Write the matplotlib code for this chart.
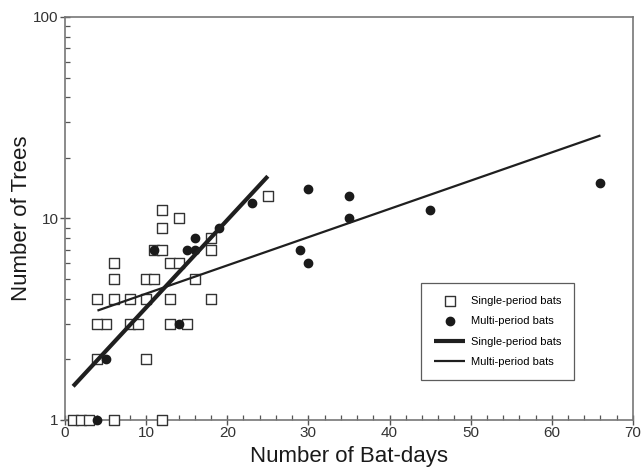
import numpy as np
import matplotlib
matplotlib.use('Agg')
import matplotlib.pyplot as plt
from matplotlib.ticker import FixedLocator, NullFormatter

plt.rcParams['font.family'] = ['Liberation Sans', 'DejaVu Sans']

# single-period bats (open squares)
single_x = [1, 2, 3, 6, 12, 4, 10, 5, 4, 8, 9, 13, 15, 4, 6, 8, 10, 13, 18,
            6, 10, 11, 16, 6, 13, 14, 11, 12, 18, 18, 12, 14, 12, 25]
single_y = [1, 1, 1, 1, 1, 2, 2, 3, 3, 3, 3, 3, 3, 4, 4, 4, 4, 4, 4,
            5, 5, 5, 5, 6, 6, 6, 7, 7, 7, 8, 9, 10, 11, 13]

# multi-period bats (filled dots)
multi_x = [4, 5, 14, 11, 15, 16, 16, 19, 23, 29, 30, 30, 35, 35, 45, 66]
multi_y = [1, 2, 3, 7, 7, 7, 8, 9, 12, 7, 6, 14, 13, 10, 11, 15]

# fitted lines, log10(y) = a + b*x
single_fit = (0.1237, 0.04344)
single_range = (1, 25)
multi_fit = (0.4868, 0.01402)
multi_range = (4, 66)

fig = plt.figure(figsize=(6.41, 4.72), dpi=100)
ax = fig.add_axes([0.1014, 0.1102, 0.886, 0.8538])

ax.scatter(single_x, single_y, marker='s', s=60, facecolors='white',
           edgecolors='#333333', linewidths=1.0, clip_on=False, zorder=3,
           label='Single-period bats')
ax.scatter(multi_x, multi_y, marker='o', s=36, color='#1a1a1a',
           clip_on=False, zorder=4, label='Multi-period bats')

xs = np.array(single_range)
ax.plot(xs, 10 ** (single_fit[0] + single_fit[1] * xs), color='#1f1f1f',
        lw=3.0, solid_capstyle='butt', zorder=5, label='Single-period bats')
xm = np.array(multi_range)
ax.plot(xm, 10 ** (multi_fit[0] + multi_fit[1] * xm), color='#1f1f1f',
        lw=1.6, solid_capstyle='butt', zorder=5, label='Multi-period bats')

ax.set_yscale('log')
ax.set_xlim(0, 70)
ax.set_ylim(1, 100)

ax.xaxis.set_major_locator(FixedLocator([0, 10, 20, 30, 40, 50, 60, 70]))
ax.xaxis.set_minor_locator(FixedLocator([x for x in range(2, 70, 2) if x % 10]))
ax.yaxis.set_major_locator(FixedLocator([1, 10, 100]))
ax.yaxis.set_major_formatter(plt.FuncFormatter(lambda v, p: '%d' % v))
ax.yaxis.set_minor_locator(FixedLocator([m * d for d in (1, 10) for m in range(2, 10)]))
ax.yaxis.set_minor_formatter(NullFormatter())

for s in ax.spines.values():
    s.set_color('#777777')
    s.set_linewidth(1.2)
ax.tick_params(which='major', direction='inout', length=7, width=1.0,
               color='#555555', labelsize=11, colors='#333333')
ax.tick_params(which='minor', direction='in', length=3.5, width=0.9,
               color='#555555')
ax.tick_params(axis='x', which='major', pad=1)
ax.tick_params(axis='y', which='major', pad=1)

ax.set_xlabel('Number of Bat-days', fontsize=16, color='#1a1a1a', labelpad=4)
ax.set_ylabel('Number of Trees', fontsize=16, color='#1a1a1a', labelpad=1)

leg = ax.legend(loc='lower right', bbox_to_anchor=(0.896, 0.099), fontsize=8,
                frameon=True, fancybox=False, edgecolor='#333333',
                handlelength=2.8, labelspacing=0.95, borderpad=1.15,
                handletextpad=0.5, borderaxespad=0)
leg.get_frame().set_linewidth(0.9)

fig.savefig('out.png', dpi=100)
